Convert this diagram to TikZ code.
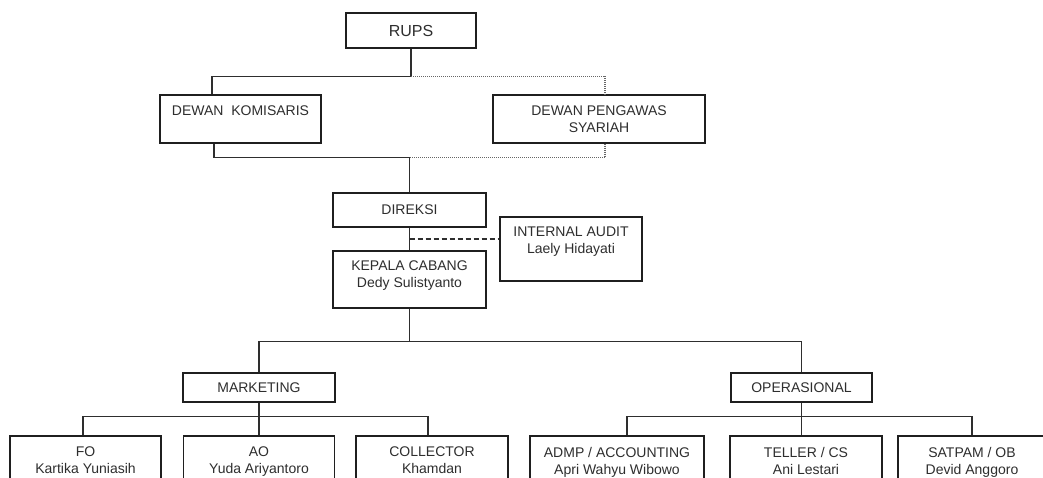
\documentclass[tikz,border=0pt]{standalone}
\usepackage{fontspec}
\setmainfont{Liberation Sans}
\usetikzlibrary{calc}
\newcommand\lastdp{\rule[-4pt]{0pt}{4pt}}
\begin{document}
\begin{tikzpicture}[x=1pt,y=-1pt,
  box/.style={draw=black!88, line width=1.4pt, inner sep=0pt, align=center,
    font=\fontsize{14}{17}\selectfont, text=black!82},
  conn/.style={draw=black!82, line width=1.1pt},
  dots/.style={draw=black!60, line width=1.1pt, dash pattern=on 1pt off 1pt},
  iadash/.style={draw=black!82, line width=1.1pt, dash pattern=on 5pt off 3pt}]
\fill[white] (0,0) rectangle (1043,477);
\useasboundingbox (0,0) rectangle (1043,477);
\begin{scope}
\clip (0,0) rectangle (1043,477);
% top
\node[box, minimum width=130pt, minimum height=35pt, font=\fontsize{16}{19}\selectfont] (RUPS) at (411,30.5) {RUPS};
\node[box, minimum width=161pt, minimum height=48pt] (DK) at (240.5,119) {DEWAN~~KOMISARIS\\\mbox{}};
\node[box, minimum width=212pt, minimum height=48pt] (DPS) at (599,119) {DEWAN PENGAWAS\\SYARIAH};
\node[box, minimum width=153pt, minimum height=34pt] (DIR) at (409.5,210) {DIREKSI};
\node[box, minimum width=142pt, minimum height=64pt] (IA) at (571,249) {INTERNAL AUDIT\\Laely Hidayati\\\mbox{}};
\node[box, minimum width=153pt, minimum height=57pt] (KC) at (409.5,279.5) {KEPALA CABANG\\Dedy Sulistyanto\\[-7pt]\mbox{}};
\node[box, minimum width=152pt, minimum height=29pt] (MKT) at (259,387.5) {MARKETING};
\node[box, minimum width=141pt, minimum height=29pt] (OPS) at (801.5,387.5) {OPERASIONAL};
% bottom row
\node[box, minimum width=151pt, minimum height=53pt] (FO) at (85.5,462.5) {FO\\Kartika Yuniasih\lastdp};
\node[box, minimum width=151pt, minimum height=53pt] (AO) at (259,462.5) {AO\\Yuda Ariyantoro\lastdp};
\node[box, minimum width=152pt, minimum height=53pt] (COL) at (432,462.5) {COLLECTOR\\Khamdan\lastdp};
\node[box, minimum width=174pt, minimum height=53pt] (ADMP) at (617,462.5) {ADMP / ACCOUNTING\\Apri Wahyu Wibowo\lastdp};
\node[box, minimum width=152pt, minimum height=53pt] (TEL) at (806,462.5) {TELLER / CS\\Ani Lestari\lastdp};
\node[box, minimum width=148pt, minimum height=53pt] (SAT) at (972,462.5) {SATPAM / OB\\Devid Anggoro\lastdp};
% connectors
\draw[conn] (RUPS.south) -- ++(0,27.5) coordinate (j1);
\draw[conn] (j1) -| ([xshift=-28.5pt]DK.north);
\draw[dots] (j1) -| ([xshift=6pt]DPS.north);
\coordinate (j2) at ([yshift=35pt]DIR.north);
\draw[conn] ([xshift=-26.5pt]DK.south) |- (j2) -- (DIR.north);
\draw[dots] ([xshift=6pt]DPS.south) |- (j2);
\draw[conn] (DIR.south) -- coordinate (j3) (KC.north);
\draw[iadash] (j3) -- (j3 -| IA.west);
\draw[conn] (KC.south) -- ++(0,33) coordinate (j4);
\draw[conn] (MKT.north) |- (j4) -| (OPS.north);
\draw[conn] (MKT.south) -- ++(0,14) coordinate (j5);
\draw[conn] ([xshift=-2.5pt]FO.north) |- (j5) -| ([xshift=-4pt]COL.north);
\draw[conn] (j5) -- (AO.north);
\draw[conn] (OPS.south) -- ++(0,14) coordinate (j6);
\draw[conn] ([xshift=10pt]ADMP.north) |- (j6) -| (SAT.north);
\draw[conn] (j6) -- (j6 |- TEL.north);
\end{scope}
\end{tikzpicture}
\end{document}
